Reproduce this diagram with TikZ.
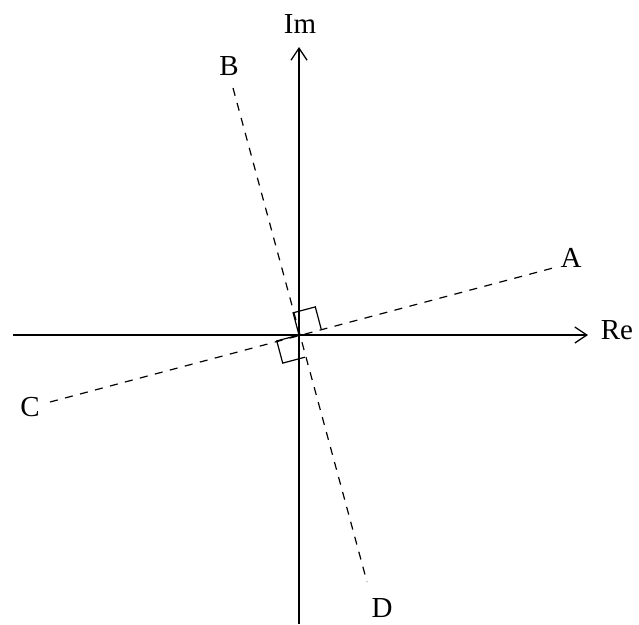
\documentclass[tikz,border=0pt]{standalone}
\usepackage{fontspec}
\setmainfont{Liberation Serif}
\usetikzlibrary{arrows.meta}
\begin{document}
\begin{tikzpicture}[x=1pt,y=-1pt,
  axis/.style={line width=1.4pt,-{Straight Barb[length=12pt,width=16pt,line width=1.3pt]}},
  dline/.style={line width=1.2pt,dash pattern=on 8pt off 7.5pt},
  rbox/.style={line width=1.2pt},
  lab/.style={font=\fontsize{29}{32}\selectfont,inner sep=0pt}]
\useasboundingbox (0,0) rectangle (639,624);
\coordinate (O) at (299,335);
\coordinate (xs) at (13,335);
\coordinate (xe) at (588,335);
\coordinate (ys) at (299,624);
\coordinate (ye) at (299,47);
\draw[axis] (xs) -- (xe);
\draw[axis] (ys) -- (ye);
\node[lab] (Im) at (300,24) {Im};
\node[lab] (Re) at (617,330) {Re};
\coordinate (pB) at (233,88);
\coordinate (pD) at (367,582);
\coordinate (pA) at (553,268);
\coordinate (pC) at (50,402);
\draw[dline] (pB) -- (pD);
\draw[dline] (pC) -- (pA);
\node[lab] (B) at (229,66) {B};
\node[lab] (A) at (571,258) {A};
\node[lab] (C) at (30,407) {C};
\node[lab] (D) at (382,608) {D};
% right-angle marks
\draw[rbox] (O) -- ++(-5.9,-22.2) -- ++(22.2,-5.9) -- ++(5.9,22.2);
\draw[rbox] (O) -- ++(-22.2,5.9) -- ++(5.9,22.2) -- ++(22.2,-5.9);
\end{tikzpicture}
\end{document}
